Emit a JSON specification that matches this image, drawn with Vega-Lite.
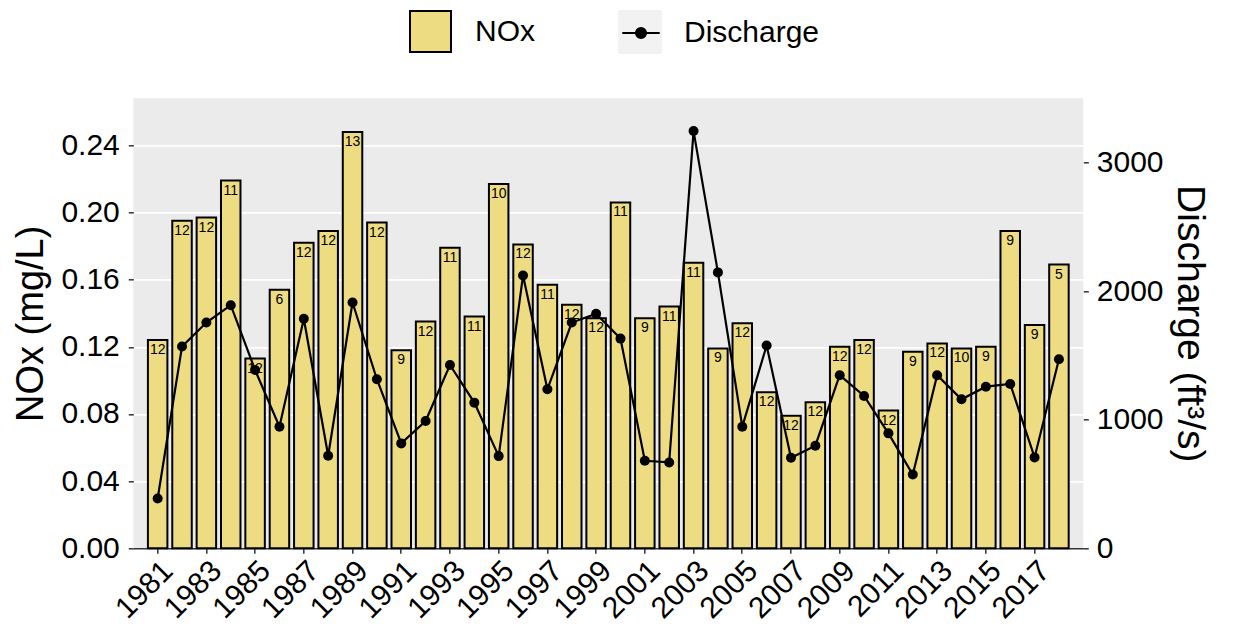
{
  "$schema": "https://vega.github.io/schema/vega-lite/v6.json",
  "width": 950,
  "height": 450,
  "autosize": {"type": "none"},
  "padding": {"left": 133.3, "top": 98.3, "right": 152.7, "bottom": 79.7},
  "background": "white",
  "config": {
    "view": {"fill": "#EBEBEB", "stroke": null},
    "font": "Liberation Sans",
    "axis": {
      "labelFont": "Liberation Sans", "titleFont": "Liberation Sans",
      "labelFontSize": 30, "titleFontSize": 38,
      "labelColor": "black", "titleColor": "black", "titleFontWeight": "normal",
      "tickColor": "#333333", "tickWidth": 1.5, "tickSize": 5,
      "domain": false, "grid": false, "labelOverlap": false
    },
    "legend": {"labelFont": "Liberation Sans", "labelFontSize": 30, "labelColor": "black", "padding": 0, "offset": 0, "title": null}
  },
  "data": {"values": [
    {"year": 1981, "nox": 0.124, "n": 12, "q": 387},
    {"year": 1982, "nox": 0.195, "n": 12, "q": 1569},
    {"year": 1983, "nox": 0.197, "n": 12, "q": 1756},
    {"year": 1984, "nox": 0.219, "n": 11, "q": 1891},
    {"year": 1985, "nox": 0.113, "n": 12, "q": 1387},
    {"year": 1986, "nox": 0.154, "n": 6, "q": 946},
    {"year": 1987, "nox": 0.182, "n": 12, "q": 1785},
    {"year": 1988, "nox": 0.189, "n": 12, "q": 720},
    {"year": 1989, "nox": 0.248, "n": 13, "q": 1912},
    {"year": 1990, "nox": 0.194, "n": 12, "q": 1315},
    {"year": 1991, "nox": 0.118, "n": 9, "q": 816},
    {"year": 1992, "nox": 0.135, "n": 12, "q": 990},
    {"year": 1993, "nox": 0.179, "n": 11, "q": 1426},
    {"year": 1994, "nox": 0.138, "n": 11, "q": 1133},
    {"year": 1995, "nox": 0.217, "n": 10, "q": 717},
    {"year": 1996, "nox": 0.181, "n": 12, "q": 2122},
    {"year": 1997, "nox": 0.157, "n": 11, "q": 1237},
    {"year": 1998, "nox": 0.145, "n": 12, "q": 1756},
    {"year": 1999, "nox": 0.137, "n": 12, "q": 1824},
    {"year": 2000, "nox": 0.206, "n": 11, "q": 1631},
    {"year": 2001, "nox": 0.137, "n": 9, "q": 681},
    {"year": 2002, "nox": 0.144, "n": 11, "q": 668},
    {"year": 2003, "nox": 0.170, "n": 11, "q": 3245},
    {"year": 2004, "nox": 0.119, "n": 9, "q": 2146},
    {"year": 2005, "nox": 0.134, "n": 12, "q": 946},
    {"year": 2006, "nox": 0.093, "n": 12, "q": 1577},
    {"year": 2007, "nox": 0.079, "n": 12, "q": 704},
    {"year": 2008, "nox": 0.087, "n": 12, "q": 798},
    {"year": 2009, "nox": 0.120, "n": 12, "q": 1346},
    {"year": 2010, "nox": 0.124, "n": 12, "q": 1185},
    {"year": 2011, "nox": 0.082, "n": 12, "q": 894},
    {"year": 2012, "nox": 0.117, "n": 9, "q": 574},
    {"year": 2013, "nox": 0.122, "n": 12, "q": 1346},
    {"year": 2014, "nox": 0.119, "n": 10, "q": 1159},
    {"year": 2015, "nox": 0.120, "n": 9, "q": 1257},
    {"year": 2016, "nox": 0.189, "n": 9, "q": 1278},
    {"year": 2017, "nox": 0.133, "n": 9, "q": 707},
    {"year": 2018, "nox": 0.169, "n": 5, "q": 1471}
  ]},
  "layer": [
    {
      "layer": [
        {
          "mark": {"type": "bar", "stroke": "black", "strokeWidth": 2},
          "encoding": {
            "x": {
              "field": "year", "type": "ordinal",
              "scale": {"type": "band", "paddingInner": 0.2, "paddingOuter": 0.6},
              "axis": {
                "values": [1981, 1983, 1985, 1987, 1989, 1991, 1993, 1995, 1997, 1999, 2001, 2003, 2005, 2007, 2009, 2011, 2013, 2015, 2017],
                "labelAngle": -45, "labelAlign": "right", "labelBaseline": "top",
                "labelPadding": 2, "title": null,
                "domain": true, "domainColor": "#333333", "domainWidth": 1.5
              }
            },
            "y": {
              "field": "nox", "type": "quantitative",
              "scale": {"domain": [0, 0.268], "nice": false, "zero": true},
              "axis": {
                "values": [0, 0.02, 0.04, 0.06, 0.08, 0.1, 0.12, 0.14, 0.16, 0.18, 0.2, 0.22, 0.24, 0.26],
                "labelExpr": "round(datum.value*100) % 4 == 0 ? format(datum.value, '.2f') : ''",
                "tickOpacity": {"condition": {"test": "round(datum.value*100) % 4 == 0", "value": 1}, "value": 0},
                "grid": true, "gridColor": "white",
                "gridWidth": {"condition": {"test": "round(datum.value*100) % 4 == 0", "value": 1.8}, "value": 0.9},
                "title": "NOx (mg/L)", "labelPadding": 9, "titlePadding": 10
              }
            },
            "fill": {
              "datum": "NOx",
              "scale": {"domain": ["NOx"], "range": ["#EEDC82"]},
              "legend": {
                "orient": "none", "legendX": 275.7, "legendY": -88.3,
                "symbolType": "square", "symbolSize": 1681, "labelOffset": 23,
                "symbolStrokeColor": "black", "symbolStrokeWidth": 2
              }
            }
          }
        },
        {
          "mark": {"type": "text", "baseline": "top", "dy": 3, "fontSize": 14, "color": "black", "font": "Liberation Sans"},
          "encoding": {
            "x": {"field": "year", "type": "ordinal"},
            "y": {"field": "nox", "type": "quantitative"},
            "text": {"field": "n", "type": "quantitative"}
          }
        }
      ]
    },
    {
      "layer": [
        {
          "mark": {"type": "bar", "color": "#F2F2F2", "fill": "#F2F2F2"},
          "encoding": {
            "x": {"field": "year", "type": "ordinal"},
            "y": {"datum": 0, "type": "quantitative"},
            "y2": {"datum": 0},
            "opacity": {
              "datum": "bg",
              "scale": {"domain": ["bg"], "range": [1]},
              "legend": {
                "orient": "none", "legendX": 484.7, "legendY": -88.3,
                "symbolType": "square", "symbolSize": 1936, "symbolStrokeWidth": 0,
                "symbolFillColor": "#F2F2F2", "symbolOpacity": 1,
                "labelOffset": 20, "labelExpr": "''", "zindex": 1
              }
            }
          }
        },
        {
          "mark": {"type": "line", "color": "black", "strokeWidth": 2.2},
          "encoding": {
            "x": {"field": "year", "type": "ordinal"},
            "y": {
              "field": "q", "type": "quantitative",
              "scale": {"domain": [0, 3500], "nice": false, "zero": true},
              "axis": {
                "orient": "right", "values": [0, 1000, 2000, 3000], "format": "d",
                "grid": false, "title": "Discharge (ft³/s)", "titleFontSize": 39,
                "labelPadding": 8, "titlePadding": 6
              }
            },
            "stroke": {
              "datum": "Discharge",
              "scale": {"domain": ["Discharge"], "range": ["black"]},
              "legend": {
                "orient": "none", "legendX": 484.7, "legendY": -88.3,
                "symbolType": "M-0.85,0H0.85M-0.23,0A0.23,0.23,0,1,1,0.23,0A0.23,0.23,0,1,1,-0.23,0M-0.15,0A0.15,0.15,0,1,1,0.15,0A0.15,0.15,0,1,1,-0.15,0M-0.07,0A0.07,0.07,0,1,1,0.07,0A0.07,0.07,0,1,1,-0.07,0",
                "symbolSize": 1936, "symbolStrokeColor": "black", "symbolStrokeWidth": 2, "symbolFillColor": "black",
                "labelOffset": 20, "zindex": 2
              }
            }
          }
        },
        {
          "mark": {"type": "point", "filled": true, "size": 100, "color": "black", "opacity": 1},
          "encoding": {
            "x": {"field": "year", "type": "ordinal"},
            "y": {"field": "q", "type": "quantitative"}
          }
        }
      ]
    }
  ],
  "resolve": {"scale": {"y": "independent"}}
}
